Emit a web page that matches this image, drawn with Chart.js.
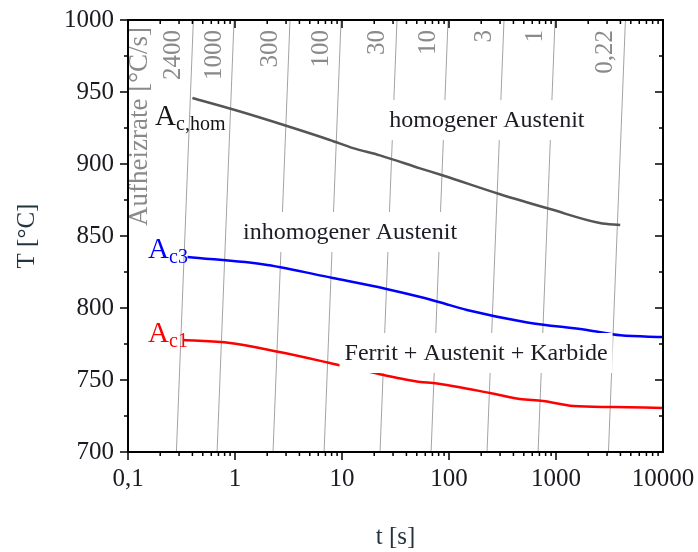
<!DOCTYPE html>
<html lang="de">
<head>
<meta charset="utf-8">
<title>Austenitisierung: Ac-Temperaturen</title>
<script src="https://cdn.jsdelivr.net/npm/chart.js"></script>
<style>
    html, body { margin: 0; padding: 0; background: #fff; }
    #chartContainer { width: 698px; height: 552px; }
</style>
</head>
<body>

<div id="chartContainer">
    <canvas id="ztaChart"></canvas>
</div>

<script>
// Ac,hom - Grenze zum homogenen Austenit
const timeHom = [0.40, 1.0, 3.06, 7.7, 12.7, 22.6, 53.6, 88, 300, 880, 2570, 3980];
const tempHom = [945.8, 937.5, 926.4, 916.7, 911, 906, 897, 892, 879, 868.7, 859, 857.6];

// Ac3
const timeAc3 = [0.36, 2.0, 8.2, 26, 54, 82, 147, 540, 1950, 4000, 10000];
const tempAc3 = [835.4, 829.9, 820.8, 813.2, 807.6, 804, 798.6, 790, 784.7, 781, 779.8];

// Ac1
const timeAc1 = [0.33, 0.9, 2.6, 7.7, 17, 54, 71, 242, 460, 755, 1450, 3400, 10000];
const tempAc1 = [777.8, 775.7, 769.4, 761.8, 756, 748.6, 747.9, 741, 736.8, 735.4, 731.9, 731.2, 730.6];

// Aufheizraten in °C/s, Start bei Raumtemperatur
const heatRates = [2400, 1000, 300, 100, 30, 10, 3, 1, 0.22];
const rateLabels = ['2400', '1000', '300', '100', '30', '10', '3', '1', '0,22'];
const startTemp = 20;
const rateLineTemps = [700, 1000];

// Achsen
const xTicks = [0.1, 1, 10, 100, 1000, 10000];
const xTickLabels = ['0,1', '1', '10', '100', '1000', '10000'];
const yTicks = [700, 750, 800, 850, 900, 950, 1000];

const FONT = '"Liberation Serif", "DejaVu Serif", serif';

function toPoints(ts, temps) {
    return ts.map((t, i) => ({ x: t, y: temps[i] }));
}

function curve(label, ts, temps, color) {
    return {
        label: label,
        data: toPoints(ts, temps),
        borderColor: color,
        borderWidth: 2.5,
        pointRadius: 0,
        cubicInterpolationMode: 'monotone',
        fill: false
    };
}

// eine Gerade pro Aufheizrate: t = (T - T0) / rate
const rateSets = heatRates.map((r, i) => ({
    label: rateLabels[i] + ' °C/s',
    data: rateLineTemps.map(T => ({ x: (T - startTemp) / r, y: T })),
    borderColor: '#a3a3a3',
    borderWidth: 1,
    pointRadius: 0,
    tension: 0,
    fill: false
}));

// Text senkrecht, von unten nach oben gelesen, Ende oben bei (x, y)
function rotText(ctx, text, x, y) {
    ctx.save();
    ctx.translate(x, y);
    ctx.rotate(-Math.PI / 2);
    ctx.textAlign = 'right';
    ctx.textBaseline = 'middle';
    ctx.fillText(text, 0, 0);
    ctx.restore();
}

// "A" mit Index
function subLabel(ctx, main, sub, x, y, color) {
    ctx.fillStyle = color;
    ctx.textAlign = 'left';
    ctx.textBaseline = 'alphabetic';
    ctx.font = '29px ' + FONT;
    ctx.fillText(main, x, y);
    const w = ctx.measureText(main).width;
    ctx.font = '20px ' + FONT;
    ctx.fillText(sub, x + w, y + 5);
}

// Skalen sollen keinen eigenen Rand beanspruchen
function noScalePadding(s) {
    s.paddingTop = 0;
    s.paddingBottom = 0;
    s.paddingLeft = 0;
    s.paddingRight = 0;
}

const annotate = {
    id: 'annotate',
    afterDatasetsDraw(chart) {
        const { ctx, chartArea: a, scales: { x, y } } = chart;
        ctx.save();

        // Beschriftung der Aufheizraten oben
        ctx.fillStyle = '#8a8a8a';
        ctx.font = '25px ' + FONT;
        heatRates.forEach((r, i) => {
            const px = x.getPixelForValue((y.max - startTemp) / r) - 20;
            rotText(ctx, rateLabels[i], px, a.top + 10);
        });
        ctx.font = '27px ' + FONT;
        rotText(ctx, 'Aufheizrate [°C/s]', a.left + 12, a.top + 7);

        // Gefügebereiche mit weißem Hintergrund
        const regions = [
            { text: 'homogener Austenit', t: 226, T: 930.5 },
            { text: 'inhomogener Austenit', t: 11.9, T: 852.8 },
            { text: 'Ferrit + Austenit + Karbide', t: 179, T: 768.75 }
        ];
        ctx.font = '24px ' + FONT;
        ctx.textAlign = 'center';
        ctx.textBaseline = 'middle';
        regions.forEach(r => {
            const cx = x.getPixelForValue(r.t);
            const cy = y.getPixelForValue(r.T);
            const w = ctx.measureText(r.text).width;
            ctx.fillStyle = '#fff';
            ctx.fillRect(cx - w / 2 - 5, cy - 20, w + 10, 40);
            ctx.fillStyle = '#1c1c24';
            ctx.fillText(r.text, cx, cy + 1);
        });

        // Kurvenbezeichnungen
        subLabel(ctx, 'A', 'c,hom', x.getPixelForValue(0.179), y.getPixelForValue(927.1), '#151515');
        subLabel(ctx, 'A', 'c3', x.getPixelForValue(0.154), y.getPixelForValue(834.7), '#0000ff');
        subLabel(ctx, 'A', 'c1', x.getPixelForValue(0.154), y.getPixelForValue(776.4), '#ff0000');

        ctx.restore();
    },
    afterDraw(chart) {
        const { ctx, chartArea: a, scales: { x, y } } = chart;
        ctx.save();
        ctx.strokeStyle = '#000';

        // Teilstriche
        ctx.lineWidth = 1.5;
        ctx.beginPath();
        for (let d = 0.1; d < 10000; d *= 10) {
            for (let m = 1; m < 10; m++) {
                const px = x.getPixelForValue(d * m);
                const len = m === 1 ? 8 : 4;
                ctx.moveTo(px, a.bottom); ctx.lineTo(px, a.bottom + len);
                ctx.moveTo(px, a.top); ctx.lineTo(px, a.top + len);
            }
        }
        for (let T = 700; T <= 1000; T += 25) {
            const py = y.getPixelForValue(T);
            const len = T % 50 === 0 ? 8 : 4;
            ctx.moveTo(a.left - len, py); ctx.lineTo(a.left, py);
            ctx.moveTo(a.right, py); ctx.lineTo(a.right - len, py);
        }
        ctx.stroke();

        // Rahmen
        ctx.lineWidth = 2;
        ctx.strokeRect(a.left, a.top, a.right - a.left, a.bottom - a.top);

        // Achsentitel
        ctx.fillStyle = '#24343f';
        ctx.font = '25px ' + FONT;
        ctx.textAlign = 'center';
        ctx.textBaseline = 'middle';
        ctx.fillText('t [s]', (a.left + a.right) / 2, 537);
        ctx.save();
        ctx.translate(27, (a.top + a.bottom) / 2);
        ctx.rotate(-Math.PI / 2);
        ctx.fillText('T [°C]', 0, 0);
        ctx.restore();

        ctx.restore();
    }
};

const ctx = document.getElementById('ztaChart').getContext('2d');
new Chart(ctx, {
    type: 'line',
    data: {
        datasets: [
            curve('Ac,hom', timeHom, tempHom, '#555555'),
            curve('Ac3', timeAc3, tempAc3, '#0000ff'),
            curve('Ac1', timeAc1, tempAc1, '#ff0000'),
            ...rateSets
        ]
    },
    options: {
        responsive: true,
        maintainAspectRatio: false,
        animation: false,
        layout: { padding: { left: 0, top: 20, right: 35, bottom: 0 } },
        plugins: {
            legend: { display: false },
            tooltip: { enabled: false }
        },
        scales: {
            x: {
                type: 'logarithmic',
                min: 0.1,
                max: 10000,
                grid: { display: false, drawTicks: false, tickLength: 0 },
                border: { display: false },
                afterBuildTicks: s => { s.ticks = xTicks.map(v => ({ value: v })); },
                afterFit: s => { s.height = 100; noScalePadding(s); },
                ticks: {
                    autoSkip: false,
                    maxRotation: 0,
                    minRotation: 0,
                    padding: 12,
                    color: '#1a1a22',
                    font: { family: FONT, size: 25 },
                    callback: (v, i) => xTickLabels[i]
                }
            },
            y: {
                min: 700,
                max: 1000,
                grid: { display: false, drawTicks: false, tickLength: 0 },
                border: { display: false },
                afterBuildTicks: s => { s.ticks = yTicks.map(v => ({ value: v })); },
                afterFit: s => { s.width = 128; noScalePadding(s); },
                ticks: {
                    autoSkip: false,
                    padding: 14,
                    color: '#1a1a22',
                    font: { family: FONT, size: 25 },
                    callback: v => String(v)
                }
            }
        }
    },
    plugins: [annotate]
});
</script>

</body>
</html>
